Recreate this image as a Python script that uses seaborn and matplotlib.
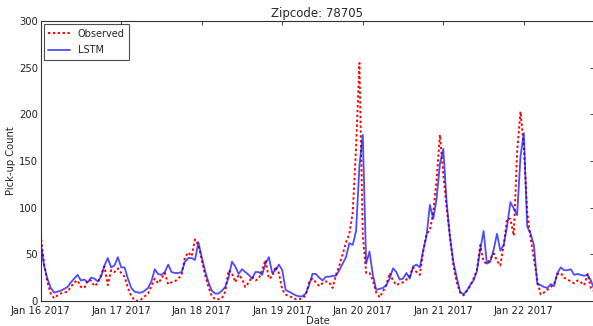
import pandas as pd
import seaborn as sns
import matplotlib.pyplot as plt
import matplotlib.dates as mdates

# hourly pick-up counts, Jan 16 2017 00:00 onwards
start_time = "2017-01-16 00:00"

observed = [
    71, 40, 20, 8, 3, 6, 8, 9, 10, 15, 20, 22, 15, 14, 22, 22, 16, 19, 28, 37, 17, 33, 31, 35,
    30, 26, 14, 5, 1, 0, 2, 5, 8, 16, 24, 19, 24, 30, 18, 20, 21, 24, 28, 47, 52, 48, 66, 60,
    44, 28, 15, 5, 2, 2, 3, 10, 33, 30, 20, 28, 24, 15, 20, 26, 22, 24, 33, 44, 24, 26, 37, 30,
    12, 7, 5, 4, 2, 2, 3, 6, 20, 24, 20, 16, 19, 21, 20, 14, 28, 38, 50, 63, 72, 95, 165, 255,
    70, 30, 30, 22, 9, 4, 10, 17, 30, 22, 17, 19, 20, 23, 27, 36, 31, 28, 53, 72, 76, 95, 130, 178,
    135, 100, 68, 38, 20, 9, 6, 11, 16, 24, 33, 60, 42, 40, 45, 51, 43, 38, 60, 88, 88, 70, 160, 203,
    165, 95, 68, 45, 23, 7, 9, 12, 15, 18, 29, 30, 25, 23, 21, 19, 22, 20, 17, 29, 14, 10,
]

lstm = [
    63, 38, 24, 14, 9, 10, 11, 13, 15, 20, 24, 28, 22, 23, 20, 25, 24, 21, 26, 38, 46, 36, 38, 47,
    36, 36, 24, 14, 10, 9, 9, 11, 14, 21, 34, 29, 28, 31, 39, 31, 30, 30, 31, 42, 46, 46, 44, 63,
    47, 32, 20, 11, 8, 8, 11, 15, 25, 42, 37, 29, 34, 31, 28, 24, 31, 31, 28, 40, 47, 30, 33, 39,
    33, 12, 10, 8, 6, 5, 5, 8, 17, 29, 29, 25, 22, 26, 26, 27, 27, 33, 40, 47, 62, 60, 75, 145,
    178, 40, 53, 28, 12, 13, 14, 17, 24, 35, 31, 23, 24, 30, 24, 37, 39, 36, 54, 70, 103, 88, 110, 147,
    163, 105, 68, 42, 25, 10, 7, 11, 17, 22, 32, 55, 75, 40, 42, 55, 72, 54, 60, 80, 106, 99, 92, 155,
    180, 80, 72, 60, 18, 17, 15, 14, 18, 16, 30, 36, 33, 33, 34, 28, 29, 28, 27, 28, 22, 12,
]

y_ticks = [0, 50, 100, 150, 200, 250, 300]


def build_frame() -> pd.DataFrame:
    dates = pd.date_range(start_time, periods=len(observed), freq="h")
    return pd.DataFrame({"Date": dates, "Observed": observed, "LSTM": lstm})


def plot_zipcode(df: pd.DataFrame):
    sns.set_style("white")
    plt.rcParams["font.family"] = ["DejaVu Sans"]

    fig = plt.figure(figsize=(5.93, 3.26), dpi=100)
    ax = fig.add_axes([0.0686, 0.0767, 0.9336, 0.8589])

    # Observed as red dotted, LSTM as light blue solid
    sns.lineplot(data=df, x="Date", y="Observed", ax=ax, color="red",
                 linewidth=1.4, label="Observed")
    ax.lines[0].set_dashes([1.2, 1.3])
    sns.lineplot(data=df, x="Date", y="LSTM", ax=ax, color="blue",
                 linewidth=1.3, alpha=0.7, label="LSTM")

    ax.set_xlim(df["Date"].iloc[0], df["Date"].iloc[-1])
    ax.set_ylim(0, 300)
    ax.set_yticks(y_ticks)
    ax.xaxis.set_major_locator(mdates.DayLocator())
    ax.xaxis.set_major_formatter(mdates.DateFormatter("%b %d %Y"))

    ax.tick_params(direction="in", length=3, width=0.6, labelsize=7.2,
                   top=True, right=True, colors="#222222", pad=2)
    ax.tick_params(axis="x", pad=3.5)
    for spine in ax.spines.values():
        spine.set_color("#333333")
        spine.set_linewidth(0.8)

    ax.set_title("Zipcode: 78705", fontsize=8.5, pad=3)
    ax.set_xlabel("Date", fontsize=7.2, labelpad=0)
    ax.set_ylabel("Pick-up Count", fontsize=7.2, labelpad=2)

    leg = ax.legend(loc="upper left", fontsize=7, handlelength=2.2,
                    borderaxespad=0.3, frameon=True, fancybox=False,
                    borderpad=0.5, labelspacing=0.65)
    leg.get_frame().set_edgecolor("#222222")
    leg.get_frame().set_linewidth(0.8)

    fig.savefig("out.png", dpi=100)


if __name__ == "__main__":
    plot_zipcode(build_frame())
